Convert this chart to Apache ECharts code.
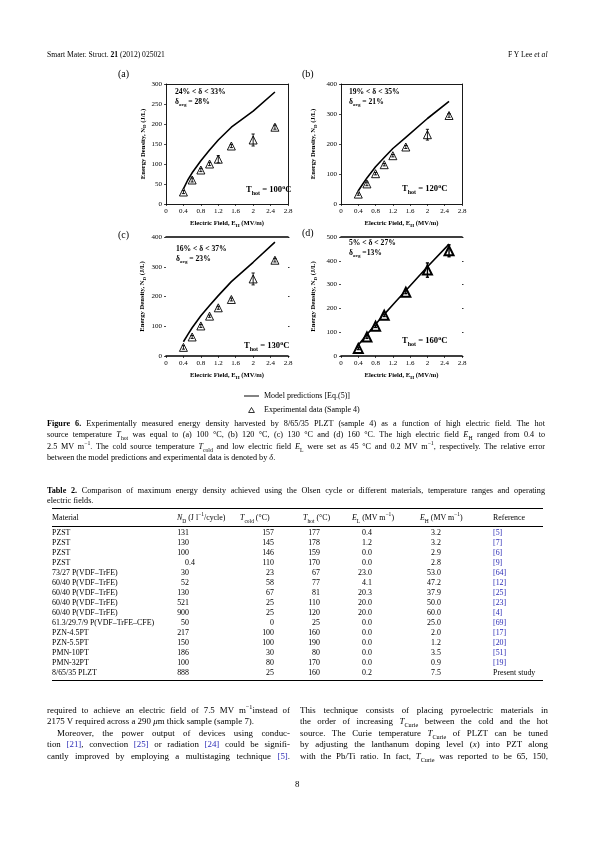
<!DOCTYPE html>
<html><head><meta charset="utf-8">
<script src="https://cdn.jsdelivr.net/npm/echarts@6/dist/echarts.min.js"></script>
<style>
body{margin:0;background:#fff;}
#page{position:relative;width:595px;height:842px;font-family:"Liberation Serif","DejaVu Serif",serif;color:#000;overflow:hidden;}
#chart{position:absolute;left:0;top:0;width:595px;height:440px;}
.t{position:absolute;white-space:nowrap;will-change:transform;}
.j{position:absolute;white-space:nowrap;text-align:justify;text-align-last:justify;will-change:transform;}
.ref{color:#2b2bb5;}
.rule{position:absolute;background:#000;}
sub,sup{font-size:70%;line-height:0;}
</style></head>
<body>
<div id="page">
<div id="chart"></div>

<div class="t" style="left:47px;top:50px;font-size:7.6px;line-height:10px">Smart Mater. Struct. <b>21</b> (2012) 025021</div>
<div class="t" style="right:47px;top:50px;font-size:7.6px;line-height:10px">F Y Lee <i>et al</i></div>

<div class="j" style="left:47px;top:418.5px;width:498px;font-size:8.2px;line-height:10px"><b>Figure 6.</b> Experimentally measured energy density harvested by 8/65/35 PLZT (sample 4) as a function of high electric field. The hot</div>
<div class="j" style="left:47px;top:430px;width:498px;font-size:8.2px;line-height:10px">source temperature <i>T</i><sub>hot</sub> was equal to (a) 100 °C, (b) 120 °C, (c) 130 °C and (d) 160 °C. The high electric field <i>E</i><sub>H</sub> ranged from 0.4 to</div>
<div class="j" style="left:47px;top:441.5px;width:498px;font-size:8.2px;line-height:10px">2.5 MV m<sup>−1</sup>. The cold source temperature <i>T</i><sub>cold</sub> and low electric field <i>E</i><sub>L</sub> were set as 45 °C and 0.2 MV m<sup>−1</sup>, respectively. The relative error</div>
<div class="t" style="left:47px;top:452.5px;font-size:8.2px;line-height:10px">between the model predictions and experimental data is denoted by <i>δ</i>.</div>

<div class="j" style="left:47px;top:486px;width:498px;font-size:8.2px;line-height:10px"><b>Table 2.</b> Comparison of maximum energy density achieved using the Olsen cycle or different materials, temperature ranges and operating</div>
<div class="t" style="left:47px;top:495.5px;font-size:8.2px;line-height:10px">electric fields.</div>

<div class="rule" style="left:52px;top:507.5px;width:491px;height:1px"></div>
<div class="rule" style="left:52px;top:525.5px;width:491px;height:0.6px"></div>
<div class="rule" style="left:52px;top:680px;width:491px;height:1px"></div>
<div id="table"></div>

<div class="j" style="left:47px;top:704.5px;width:243px;font-size:8.9px;line-height:11px">required to achieve an electric field of 7.5 MV m<sup>−1</sup>instead of</div>
<div class="t" style="left:47px;top:716px;font-size:8.9px;line-height:11px">2175 V required across a 290 <i>μ</i>m thick sample (sample 7).</div>
<div class="j" style="left:57px;top:727.5px;width:233px;font-size:8.9px;line-height:11px">Moreover, the power output of devices using conduc-</div>
<div class="j" style="left:47px;top:739px;width:243px;font-size:8.9px;line-height:11px">tion <span class="ref">[21]</span>, convection <span class="ref">[25]</span> or radiation <span class="ref">[24]</span> could be signifi-</div>
<div class="j" style="left:47px;top:750.5px;width:243px;font-size:8.9px;line-height:11px">cantly improved by employing a multistaging technique <span class="ref">[5]</span>.</div>

<div class="j" style="left:300px;top:704.5px;width:248px;font-size:8.9px;line-height:11px">This technique consists of placing pyroelectric materials in</div>
<div class="j" style="left:300px;top:716px;width:248px;font-size:8.9px;line-height:11px">the order of increasing <i>T</i><sub>Curie</sub> between the cold and the hot</div>
<div class="j" style="left:300px;top:727.5px;width:248px;font-size:8.9px;line-height:11px">source. The Curie temperature <i>T</i><sub>Curie</sub> of PLZT can be tuned</div>
<div class="j" style="left:300px;top:739px;width:248px;font-size:8.9px;line-height:11px">by adjusting the lanthanum doping level (<i>x</i>) into PZT along</div>
<div class="j" style="left:300px;top:750.5px;width:248px;font-size:8.9px;line-height:11px">with the Pb/Ti ratio. In fact, <i>T</i><sub>Curie</sub> was reported to be 65, 150,</div>

<div class="t" style="left:295px;top:779px;font-size:8.9px;line-height:11px">8</div>
</div>

<script>
// ---------- Figure data ----------
const fieldA = [0.4, 0.6, 0.8, 1.0, 1.2, 1.5, 2.0, 2.5];
const expA   = [30, 60, 85, 100, 112, 145, 160, 192];
const errA   = [4, 5, 4, 4, 9, 4, 15, 5];
const modelFieldA = [0.4, 0.5, 0.6, 0.8, 1.0, 1.2, 1.5, 2.0, 2.5];
const modelA = [38, 60, 78, 108, 135, 160, 192, 232, 280];

const fieldB = [0.4, 0.6, 0.8, 1.0, 1.2, 1.5, 2.0, 2.5];
const expB   = [33, 67, 101, 131, 161, 190, 231, 295];
const errB   = [4, 6, 4, 4, 4, 5, 18, 6];
const modelFieldB = [0.4, 0.5, 0.6, 0.8, 1.0, 1.2, 1.5, 2.0, 2.5];
const modelB = [44, 66, 87, 124, 155, 185, 222, 285, 342];

const fieldC = [0.4, 0.6, 0.8, 1.0, 1.2, 1.5, 2.0, 2.5];
const expC   = [29, 64, 101, 134, 162, 190, 259, 322];
const errC   = [6, 5, 5, 4, 5, 5, 20, 6];
const modelFieldC = [0.4, 0.5, 0.6, 0.8, 1.0, 1.2, 1.5, 2.0, 2.5];
const modelC = [48, 72, 95, 135, 170, 203, 250, 315, 383];

const fieldD = [0.4, 0.6, 0.8, 1.0, 1.5, 2.0, 2.5];
const expD   = [32, 80, 125, 171, 268, 361, 442];
const errD   = [5, 6, 5, 5, 6, 30, 25];
const modelFieldD = [0.4, 0.6, 0.8, 1.0, 1.2, 1.5, 2.0, 2.5];
const modelD = [46, 90, 133, 175, 215, 275, 375, 470];

const panelLabels = ['(a)', '(b)', '(c)', '(d)'];
const yMax  = [300, 400, 400, 500];
const yStep = [50, 100, 100, 100];
const xMax = 2.8, xStep = 0.4;
const hotTemps  = [100, 120, 130, 160];
const deltaMin  = [24, 19, 16, 5];
const deltaMax  = [33, 35, 37, 27];
const deltaAvg  = [28, 21, 23, 13];
const seriesModelName = 'Model predictions [Eq.(5)]';
const seriesExpName = 'Experimental data (Sample 4)';

// ---------- Table data ----------
const tMaterial = ['PZST','PZST','PZST','PZST','73/27 P(VDF–TrFE)','60/40 P(VDF–TrFE)','60/40 P(VDF–TrFE)','60/40 P(VDF–TrFE)','60/40 P(VDF–TrFE)','61.3/29.7/9 P(VDF–TrFE–CFE)','PZN-4.5PT','PZN-5.5PT','PMN-10PT','PMN-32PT','8/65/35 PLZT'];
const tND    = ['131','130','100','0.4','30','52','130','521','900','50','217','150','186','100','888'];
const tTcold = ['157','145','146','110','23','58','67','25','25','0','100','100','30','80','25'];
const tThot  = ['177','178','159','170','67','77','81','110','120','25','160','190','80','170','160'];
const tEL    = ['0.4','1.2','0.0','0.0','23.0','4.1','20.3','20.0','20.0','0.0','0.0','0.0','0.0','0.0','0.2'];
const tEH    = ['3.2','3.2','2.9','2.8','53.0','47.2','37.9','50.0','60.0','25.0','2.0','1.2','3.5','0.9','7.5'];
const tRef   = ['[5]','[7]','[6]','[9]','[64]','[12]','[25]','[23]','[4]','[69]','[17]','[20]','[51]','[19]','Present study'];

// ---------- Build table ----------
(function(){
  const page = document.getElementById('table');
  let h = '';
  const fs = 'font-size:7.9px;line-height:10px;';
  const hy = 513;
  h += `<div class="t" style="left:52px;top:${hy}px;${fs}">Material</div>`;
  h += `<div class="t" style="left:177px;top:${hy}px;${fs}"><i>N</i><sub>D</sub> (J l<sup>−1</sup>/cycle)</div>`;
  h += `<div class="t" style="left:240px;top:${hy}px;${fs}"><i>T</i><sub>cold</sub> (°C)</div>`;
  h += `<div class="t" style="left:303px;top:${hy}px;${fs}"><i>T</i><sub>hot</sub> (°C)</div>`;
  h += `<div class="t" style="left:352px;top:${hy}px;${fs}"><i>E</i><sub>L</sub> (MV m<sup>−1</sup>)</div>`;
  h += `<div class="t" style="left:420px;top:${hy}px;${fs}"><i>E</i><sub>H</sub> (MV m<sup>−1</sup>)</div>`;
  h += `<div class="t" style="left:493px;top:${hy}px;${fs}">Reference</div>`;
  function dec(v, anchor, y){
    const k = v.indexOf('.');
    const ip = k < 0 ? v : v.slice(0,k), fp = k < 0 ? '' : v.slice(k);
    return `<div class="t" style="left:${anchor-40}px;width:40px;text-align:right;top:${y}px;${fs}">${ip}</div>` +
           (fp ? `<div class="t" style="left:${anchor}px;top:${y}px;${fs}">${fp}</div>` : '');
  }
  function right(v, edge, y){
    return `<div class="t" style="left:${edge-40}px;width:40px;text-align:right;top:${y}px;${fs}">${v}</div>`;
  }
  for (let i = 0; i < tMaterial.length; i++){
    const y = 528 + i*10;
    h += `<div class="t" style="left:52px;top:${y}px;${fs}">${tMaterial[i]}</div>`;
    h += dec(tND[i], 189, y);
    h += right(tTcold[i], 274, y);
    h += right(tThot[i], 320, y);
    h += dec(tEL[i], 366, y);
    h += dec(tEH[i], 435, y);
    const isRef = tRef[i].charAt(0) === '[';
    h += `<div class="t${isRef?' ref':''}" style="left:493px;top:${y}px;${fs}">${tRef[i]}</div>`;
  }
  page.innerHTML = h;
})();

// ---------- Chart ----------
const FONT = 'Liberation Serif';
const fields = [fieldA, fieldB, fieldC, fieldD];
const exps = [expA, expB, expC, expD];
const errs = [errA, errB, errC, errD];
const modelFields = [modelFieldA, modelFieldB, modelFieldC, modelFieldD];
const models = [modelA, modelB, modelC, modelD];

const gridPos = [
  {left:166, top:84, width:122, height:120},
  {left:341, top:84, width:121, height:120},
  {left:166, top:237, width:122, height:119},
  {left:341, top:237, width:121, height:119}
];

const nameRich = {
  b: {fontFamily:FONT, fontSize:6.6, fontWeight:'bold', color:'#000', lineHeight:9},
  s: {fontFamily:FONT, fontSize:5, fontWeight:'bold', color:'#000', lineHeight:5, verticalAlign:'bottom'}
};

const grids = [], xAxes = [], yAxes = [], series = [], graphics = [];

function renderErr(params, api){
  const x = api.value(0), lo = api.value(1), hi = api.value(2);
  const p1 = api.coord([x, lo]), p2 = api.coord([x, hi]);
  const cap = 1.6, st = {stroke:'#000', lineWidth: params.seriesIndex > 8 ? 1.4 : 0.9};
  return {type:'group', children:[
    {type:'line', shape:{x1:p1[0], y1:p1[1], x2:p2[0], y2:p2[1]}, style:st},
    {type:'line', shape:{x1:p1[0]-cap, y1:p1[1], x2:p1[0]+cap, y2:p1[1]}, style:st},
    {type:'line', shape:{x1:p2[0]-cap, y1:p2[1], x2:p2[0]+cap, y2:p2[1]}, style:st}
  ]};
}

for (let i = 0; i < 4; i++){
  const boxed = i < 2;
  const lw = boxed ? 0.9 : 1.6;
  grids.push(Object.assign({containLabel:false}, gridPos[i]));
  xAxes.push({
    type:'value', gridIndex:i, position:'bottom', min:0, max:xMax, interval:xStep,
    axisLine:{show:true, onZero:false, lineStyle:{color:'#000', width:lw}},
    axisTick:{show:true, length:2, lineStyle:{color:'#000', width:0.7}},
    axisLabel:{fontFamily:FONT, fontSize:7, color:'#000', margin:4},
    splitLine:{show:false},
    name:'{b|Electric Field, E}{s|H}{b| (MV/m)}', nameLocation:'middle', nameGap:15,
    nameTextStyle:{rich:nameRich}
  });
  xAxes.push({
    type:'value', gridIndex:i, position:'top', min:0, max:xMax, interval:xStep,
    axisLine:{show:true, onZero:false, lineStyle:{color:'#000', width:lw}},
    axisTick:{show:false}, axisLabel:{show:false}, splitLine:{show:false}
  });
  yAxes.push({
    type:'value', gridIndex:i, position:'left', min:0, max:yMax[i], interval:yStep[i],
    axisLine:{show:boxed, onZero:false, lineStyle:{color:'#000', width:0.9}},
    axisTick:{show:true, length:2, lineStyle:{color:'#000', width:0.7}},
    axisLabel:{fontFamily:FONT, fontSize:7, color:'#000', margin:4},
    splitLine:{show:false},
    name:'{b|Energy Density, N}{s|D}{b| (J/L)}', nameLocation:'middle', nameGap: boxed ? (i===0?18:23) : (i===2?19:23),
    nameTextStyle:{rich:nameRich}
  });
  yAxes.push({
    type:'value', gridIndex:i, position:'right', min:0, max:yMax[i], interval:yStep[i],
    axisLine:{show:boxed, onZero:false, lineStyle:{color:'#000', width:0.9}},
    axisTick:{show:!boxed, inside:false, length:1.5, lineStyle:{color:'#000', width:0.8}},
    axisLabel:{show:false}, splitLine:{show:false}
  });
  series.push({
    type:'line', name:seriesModelName, xAxisIndex:2*i, yAxisIndex:2*i,
    data: modelFields[i].map((x,k)=>[x, models[i][k]]),
    symbol:'none', smooth:false,
    lineStyle:{color:'#000', width:1.6, join:'round'}, itemStyle:{color:'#000'}, z:3, silent:true
  });
  series.push({
    type:'scatter', name:seriesExpName, xAxisIndex:2*i, yAxisIndex:2*i,
    data: fields[i].map((x,k)=>[x, exps[i][k]]),
    symbol:'triangle', symbolSize: i===3 ? 9 : 8,
    itemStyle:{color:'#fff', borderColor:'#000', borderWidth: i===3 ? 2 : 0.9, opacity:1}, z:4
  });
  series.push({
    type:'custom', name:'err'+i, xAxisIndex:2*i, yAxisIndex:2*i,
    data: fields[i].map((x,k)=>[x, exps[i][k]-errs[i][k], exps[i][k]+errs[i][k]]),
    encode:{x:0, y:[1,2]}, renderItem: renderErr, z:5, silent:true
  });
}

const annoRich = {
  b: {fontFamily:FONT, fontSize:7.6, fontWeight:'bold', color:'#000', lineHeight:10},
  s: {fontFamily:FONT, fontSize:5, fontWeight:'bold', color:'#000', lineHeight:5, verticalAlign:'bottom'}
};
const hotRich = {
  b: {fontFamily:FONT, fontSize:8.6, fontWeight:'bold', color:'#000', lineHeight:12},
  s: {fontFamily:FONT, fontSize:6, fontWeight:'bold', color:'#000', lineHeight:6, verticalAlign:'bottom'},
  p: {fontFamily:FONT, fontSize:6, fontWeight:'bold', color:'#000', lineHeight:6, verticalAlign:'top'}
};
const labelPos = [[118,69],[302,69],[118,230],[302,228]];
const deltaPos = [[175,88],[349,88],[176,245],[349,239]];
const hotPos = [[246,184],[402,183],[244,340],[402,335]];
for (let i = 0; i < 4; i++){
  graphics.push({type:'text', left:labelPos[i][0], top:labelPos[i][1],
    style:{text:panelLabels[i], font:'10px "Liberation Serif"', fill:'#000'}});
  graphics.push({type:'text', left:deltaPos[i][0], top:deltaPos[i][1],
    style:{text:`{b|${deltaMin[i]}% < δ < ${deltaMax[i]}%}\n{b|δ}{s|avg}{b|${i===3?' =':' = '}${deltaAvg[i]}%}`, rich:annoRich}});
  graphics.push({type:'text', left:hotPos[i][0], top:hotPos[i][1],
    style:{text:`{b|T}{s|hot}{b| = ${hotTemps[i]}}{p|o}{b|C}`, rich:hotRich}});
}

const chart = echarts.init(document.getElementById('chart'), null, {renderer:'canvas'});
chart.setOption({
  animation:false,
  backgroundColor:'transparent',
  grid: grids, xAxis: xAxes, yAxis: yAxes, series: series,
  legend:{
    data:[
      {name:seriesModelName, icon:'path://M0,0H20V1.3H0Z'},
      {name:seriesExpName, icon:'path://M3,0L6,5.2L0,5.2Z',
       itemStyle:{color:'#fff', borderColor:'#000', borderWidth:0.8}}
    ],
    orient:'vertical', left:244, top:392, padding:0, itemWidth:15, itemHeight:5, itemGap:6,
    selectedMode:false,
    textStyle:{fontFamily:FONT, fontSize:8, color:'#000'}
  },
  graphic: graphics
});
</script>
</body></html>
